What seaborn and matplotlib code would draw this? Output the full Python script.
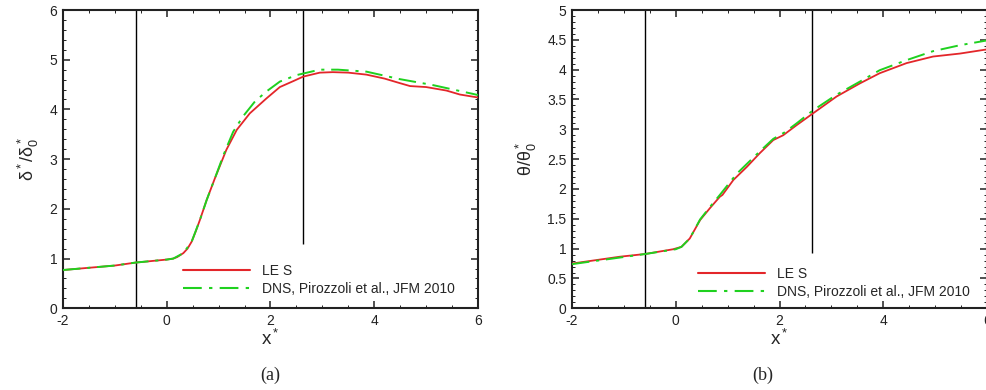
import numpy as np
import pandas as pd
import matplotlib
matplotlib.use("Agg")
import matplotlib.pyplot as plt
from matplotlib.ticker import MultipleLocator
import seaborn as sns

# ---------------- data ----------------
# Panel (a): displacement thickness
les_a_x = [-2, -1, -0.6, 0, 0.125, 0.2, 0.32, 0.4, 0.48, 0.56, 0.64, 0.77, 0.93, 1.15, 1.35,
           1.6, 1.92, 2.18, 2.44, 2.63, 2.95, 3.2, 3.5, 3.85, 4.2, 4.49, 4.69, 5.0, 5.39, 5.65, 6.0]
les_a_y = [0.77, 0.86, 0.92, 0.98, 1.0, 1.03, 1.11, 1.2, 1.34, 1.55, 1.78, 2.18, 2.62, 3.19, 3.59,
           3.92, 4.22, 4.45, 4.57, 4.66, 4.74, 4.75, 4.74, 4.70, 4.62, 4.53, 4.47, 4.45, 4.38, 4.30, 4.24]
dns_a_x = [-2, -1, -0.6, 0, 0.125, 0.32, 0.48, 0.64, 0.77, 0.93, 1.1, 1.28, 1.47, 1.70, 1.92,
           2.18, 2.50, 2.95, 3.3, 3.85, 4.49, 5.13, 6.0]
dns_a_y = [0.77, 0.86, 0.92, 0.98, 1.0, 1.11, 1.34, 1.78, 2.18, 2.62, 3.1, 3.55, 3.86, 4.16, 4.36,
           4.56, 4.69, 4.80, 4.80, 4.76, 4.61, 4.49, 4.29]

# Panel (b): momentum thickness
les_b_x = [-2, -1.075, -0.59, -0.05, 0.11, 0.27, 0.47, 0.66, 0.85, 0.9, 1.11, 1.37, 1.62, 1.88,
           2.07, 2.33, 2.65, 3.10, 3.55, 3.93, 4.45, 4.96, 5.48, 6.0]
les_b_y = [0.75, 0.865, 0.91, 0.99, 1.03, 1.17, 1.48, 1.68, 1.87, 1.90, 2.15, 2.37, 2.60, 2.82,
           2.90, 3.07, 3.27, 3.55, 3.77, 3.94, 4.11, 4.22, 4.27, 4.34]
dns_b_x = [-2, -1, -0.59, 0, 0.11, 0.27, 0.47, 0.66, 0.85, 1.17, 1.37, 1.62, 1.88, 2.1, 2.33,
           2.65, 3.10, 3.55, 3.93, 4.45, 4.96, 5.48, 6.0]
dns_b_y = [0.74, 0.86, 0.91, 0.99, 1.03, 1.17, 1.49, 1.70, 1.90, 2.25, 2.42, 2.63, 2.84, 2.95, 3.10,
           3.32, 3.58, 3.80, 3.99, 4.16, 4.31, 4.41, 4.49]

# vertical marker lines (x position, lower end)
vline_x = [-0.6, 2.63]
vline_ymin_a = [0, 1.3]
vline_ymin_b = [0, 0.93]

x_ticks = [-2, 0, 2, 4, 6]
labels = ["LE S", "DNS, Pirozzoli et al., JFM 2010"]

# ---------------- style ----------------
sns.set_style("ticks")
plt.rcParams["font.family"] = ["Liberation Sans", "DejaVu Sans"]
plt.rcParams["mathtext.fontset"] = "custom"
plt.rcParams["mathtext.rm"] = "Liberation Sans"
plt.rcParams["mathtext.it"] = "Liberation Sans"
plt.rcParams["axes.unicode_minus"] = False

RED = "#e3262a"
GREEN = "#1fd11f"

fig = plt.figure(figsize=(9.87, 3.90), dpi=100)
ax_a = fig.add_axes([63 / 987, 1 - 308.3 / 390, 415 / 987, 298.3 / 390])
ax_b = fig.add_axes([572 / 987, 1 - 308.3 / 390, 415 / 987, 298.3 / 390])


def draw(ax, lx, ly, dx, dy, ymax, ymin_list, yminor, ylabel, leg_xy):
    df_l = pd.DataFrame({"x": lx, "y": ly})
    df_d = pd.DataFrame({"x": dx, "y": dy})
    ax.vlines(vline_x, ymin_list, ymax, colors="black", lw=1.0, zorder=1)
    sns.lineplot(data=df_l, x="x", y="y", ax=ax, color=RED, lw=1.3, label=labels[0],
                 estimator=None, sort=False, zorder=3)
    sns.lineplot(data=df_d, x="x", y="y", ax=ax, color=GREEN, lw=1.4, label=labels[1],
                 estimator=None, sort=False, zorder=4)
    ax.lines[-1].set_dashes((9, 3.5, 1.6, 3.5))
    ax.set_xlim(-2, 6)
    ax.set_ylim(0, ymax)
    ax.set_xticks(x_ticks)
    ax.xaxis.set_minor_locator(MultipleLocator(0.5))
    ax.yaxis.set_minor_locator(MultipleLocator(yminor))
    ax.tick_params(which="both", direction="in", top=True, right=True, labelsize=10,
                   colors="#222222", labelcolor="#222222", pad=4)
    ax.tick_params(which="major", length=5, width=1.1)
    ax.tick_params(which="minor", length=2.5, width=0.7)
    for s in ax.spines.values():
        s.set_linewidth(1.5)
        s.set_color("#222222")
    ax.set_xlabel(r"x$\mathregular{^*}$", fontsize=13.5, labelpad=1)
    ax.set_ylabel(ylabel, fontsize=13, labelpad=6)
    handles, labs = ax.get_legend_handles_labels()
    leg = ax.legend(handles, labs, loc="upper left", bbox_to_anchor=leg_xy, frameon=False,
                    fontsize=10, handlelength=4.8, handletextpad=0.9, labelspacing=0.25,
                    borderpad=0, borderaxespad=0)
    for h in leg.get_lines():
        h.set_linewidth(1.5)
    leg.get_lines()[1].set_dashes((9, 3.5, 1.6, 3.5))


draw(ax_a, les_a_x, les_a_y, dns_a_x, dns_a_y, 6, vline_ymin_a, 0.2,
     r"$\mathregular{\delta^*/\delta^*_0}$", (0.289, 0.148))
draw(ax_b, les_b_x, les_b_y, dns_b_x, dns_b_y, 5, vline_ymin_b, 0.1,
     r"$\mathregular{\theta/\theta^*_0}$", (0.304, 0.138))
ax_b.set_yticks([0, 0.5, 1, 1.5, 2, 2.5, 3, 3.5, 4, 4.5, 5])
ax_b.set_yticklabels(["0", "0.5", "1", "1.5", "2", "2.5", "3", "3.5", "4", "4.5", "5"])

fig.text(270 / 987, 1 - 375 / 390, "(a)", ha="center", va="center", fontsize=13,
         family=["Liberation Serif", "DejaVu Serif"])
fig.text(763 / 987, 1 - 375 / 390, "(b)", ha="center", va="center", fontsize=13,
         family=["Liberation Serif", "DejaVu Serif"])

fig.savefig("out.png", dpi=100)
